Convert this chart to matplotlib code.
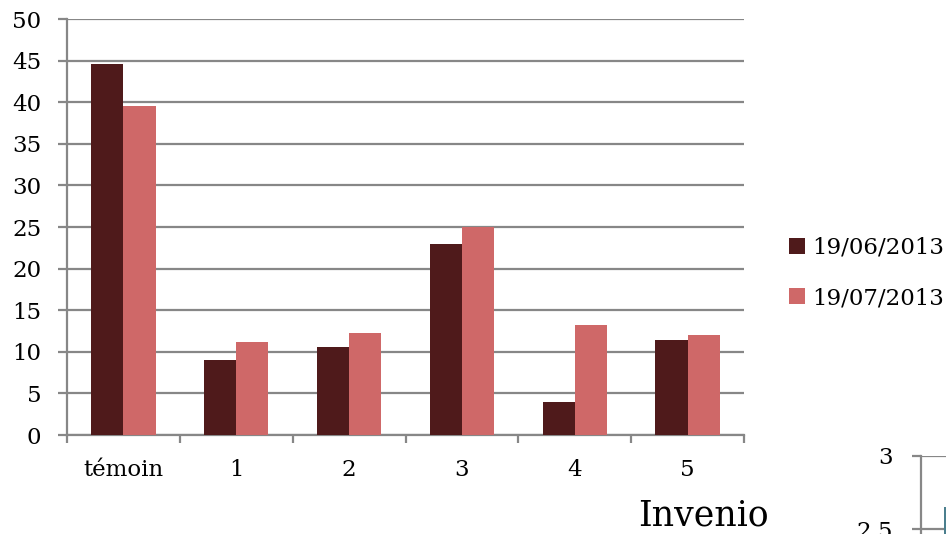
import matplotlib
matplotlib.use("Agg")
import matplotlib.pyplot as plt
import numpy as np

# values
categories = ["témoin", "1", "2", "3", "4", "5"]
serie_juin = [44.6, 9.0, 10.6, 23.0, 4.0, 11.4]
serie_juillet = [39.5, 11.2, 12.2, 25.0, 13.2, 12.0]
series_labels = ["19/06/2013", "19/07/2013"]
y_ticks = list(range(0, 51, 5))

# next chart peeking in at the bottom right
next_title = "Invenio"
next_ticks = [2.5, 3]
next_value = [2.65]

dark = "#4f1a1b"
pink = "#cf6868"
grid_gray = "#878787"

plt.rcParams["font.family"] = ["DejaVu Serif"]

fig = plt.figure(figsize=(9.46, 5.34), dpi=100)
ax = fig.add_axes([67 / 946, 1 - 435 / 534, (744 - 67) / 946, (435 - 19) / 534])

x = np.arange(len(categories))
w = 0.285
ax.bar(x - w / 2, serie_juin, w, color=dark, label=series_labels[0], zorder=3)
ax.bar(x + w / 2, serie_juillet, w, color=pink, label=series_labels[1], zorder=3)

ax.set_xlim(-0.5, len(categories) - 0.5)
ax.set_ylim(0, 50)
ax.set_yticks(y_ticks)
ax.yaxis.grid(True, color=grid_gray, linewidth=1.6)
ax.set_axisbelow(True)

for s in ["top", "right"]:
    ax.spines[s].set_visible(False)
for s in ["left", "bottom"]:
    ax.spines[s].set_color(grid_gray)
    ax.spines[s].set_linewidth(1.6)

ax.tick_params(axis="y", length=6.5, width=1.6, color=grid_gray, pad=12, labelsize=16.5)
ax.set_xticks(x)
ax.set_xticklabels(categories)
ax.tick_params(axis="x", which="major", length=0, pad=17, labelsize=16.5)
ax.set_xticks(np.arange(len(categories) + 1) - 0.5, minor=True)
ax.tick_params(axis="x", which="minor", length=6, width=1.6, color=grid_gray)

ax.legend(frameon=False, loc="center left", bbox_to_anchor=(789 / 946, 1 - 273 / 534),
          bbox_transform=fig.transFigure, fontsize=16.5, handlelength=0.7,
          handleheight=0.7, handletextpad=0.3, labelspacing=1.25,
          borderpad=0, borderaxespad=0)

fig.text(703 / 946, 1 - 515 / 534, next_title, fontsize=25, ha="center", va="center")

# partial second chart
ax2 = fig.add_axes([921 / 946, (534 - 456) / 534 - 146 * 3 / 534, 0.2, 146 * 3 / 534])
ax2.set_ylim(0, 3)
ax2.set_xlim(0, 1)
ax2.set_yticks(next_ticks)
ax2.set_yticklabels(["2.5", "3"])
ax2.yaxis.grid(True, color=grid_gray, linewidth=1.6)
ax2.set_axisbelow(True)
ax2.bar([0.122], next_value, 0.3, align="edge", color="#4b7f8e", zorder=3)
for s in ["top", "right", "bottom"]:
    ax2.spines[s].set_visible(False)
ax2.spines["left"].set_color(grid_gray)
ax2.spines["left"].set_linewidth(1.6)
ax2.tick_params(axis="y", length=6.5, width=1.6, color=grid_gray, pad=14, labelsize=16.5)
ax2.set_xticks([])

fig.savefig("out.png", dpi=100)
